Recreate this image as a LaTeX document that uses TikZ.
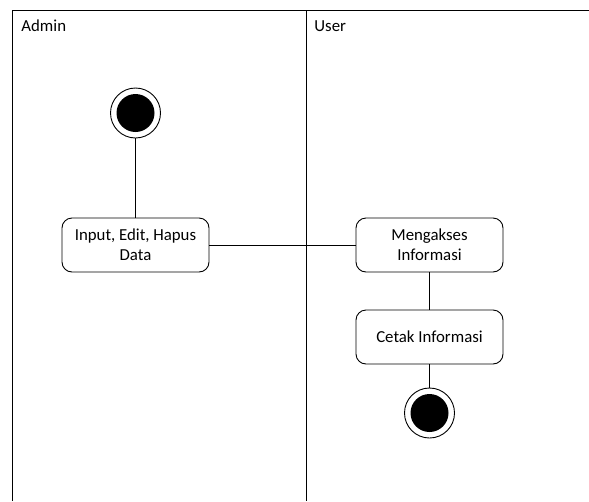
\documentclass[tikz,border=0pt]{standalone}
\usepackage{fontspec}
\setmainfont{Carlito}
\begin{document}
\begin{tikzpicture}[x=1pt,y=-1pt,
  line width=0.9pt,
  actbox/.style={draw, rounded corners=10pt, minimum width=147pt, minimum height=54pt, align=center, font=\fontsize{16.8}{20}\selectfont, inner sep=2pt},
  startdot/.style={circle, fill=black, minimum size=38pt, inner sep=0pt},
  ring/.style={circle, draw, minimum size=50pt, inner sep=0pt},
  lanelabel/.style={anchor=west, font=\fontsize{16.8}{20}\selectfont, inner sep=0pt}]
\useasboundingbox (0,0) rectangle (589,501);
% swimlanes
\coordinate (tl) at (12,10);
\coordinate (tr) at (589,10);
\coordinate (bl) at (12,501);
\coordinate (tm) at (306,10);
\coordinate (bm) at (306,501);
\draw (bl) -- (tl) -- (tr);
\draw (tm) -- (bm);
\node[lanelabel] (admin) at (21,26) {Admin};
\node[lanelabel] (user) at (314,26) {User};
% nodes
\node[ring] (startring) at (135.5,113) {};
\node[startdot] (start) at (135.5,113) {};
\node[actbox] (input) at (135.5,245) {Input, Edit, Hapus\\Data};
\node[actbox] (akses) at (429.5,245) {Mengakses\\Informasi};
\node[actbox] (cetak) at (429.5,337) {Cetak Informasi};
\node[ring] (endring) at (429.5,413) {};
\node[startdot] (end) at (429.5,413) {};
% connectors
\draw (startring) -- (input);
\draw (input) -- (akses);
\draw (akses) -- (cetak);
\draw (cetak) -- (endring);
\end{tikzpicture}
\end{document}
